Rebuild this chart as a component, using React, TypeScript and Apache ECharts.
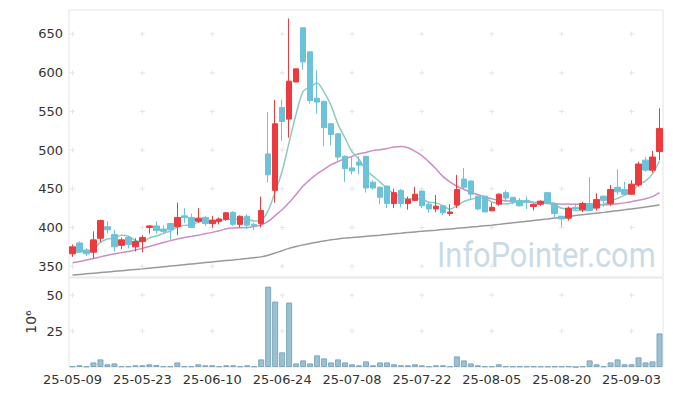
import React, { useEffect, useRef } from "react";
import * as echarts from "echarts";

const dates = [
  "25-05-09","25-05-12","25-05-13","25-05-14","25-05-15","25-05-16","25-05-19","25-05-20","25-05-21","25-05-22",
  "25-05-23","25-05-26","25-05-27","25-05-28","25-05-29","25-05-30","25-06-02","25-06-04","25-06-05","25-06-09",
  "25-06-10","25-06-11","25-06-12","25-06-13","25-06-16","25-06-17","25-06-18","25-06-19","25-06-20","25-06-23",
  "25-06-24","25-06-25","25-06-26","25-06-27","25-06-30","25-07-01","25-07-02","25-07-03","25-07-04","25-07-07",
  "25-07-08","25-07-09","25-07-10","25-07-11","25-07-14","25-07-15","25-07-16","25-07-17","25-07-18","25-07-21",
  "25-07-22","25-07-23","25-07-24","25-07-25","25-07-28","25-07-29","25-07-30","25-07-31","25-08-01","25-08-04",
  "25-08-05","25-08-06","25-08-07","25-08-08","25-08-11","25-08-12","25-08-13","25-08-14","25-08-18","25-08-19",
  "25-08-20","25-08-21","25-08-22","25-08-25","25-08-26","25-08-27","25-08-28","25-08-29","25-09-01","25-09-02",
  "25-09-03","25-09-04","25-09-05","25-09-08","25-09-09",
];

const opens = [
  366,380,371,368,386,401,391,377,387,375,
  382,400,402,398,405,401,415,413,408,413,
  405,408,410.5,419.5,404,414.5,404,405,495,448,
  555,540,588,658,627,567,563,534,521,492,
  477,484.5,492,458.5,452,453.5,431,448,431,435,
  447,430,424,428,418,429,462.5,460,440.5,440.5,
  421.5,430,445,439,435,434,427,430,445,431,
  414.5,412,426,423,431,425,440.5,431,452,449,
  443,455,487,474,498,
];
const closes = [
  375,369,366,384,409,397,375,384,378,382,
  387,402,396,395,397,413,412.5,400,412,405,
  409.5,411,419,404,414.5,403,402,422,468,534,
  537,589,605,614,564,562,529,520,491,476,
  473,480.5,451,451,439,431,445,431,436.5,443,
  428,424,427.5,419,420,449,452,443,424,420,
  426,443,438,433,428,432.5,430,434,431,418,
  411,425,424,431,422,436,435,449,446,443,
  456,482,474,491,528,
];
const lows = [
  362,368,363,360,381,392,369,372,373,369,
  368,392,392,392,384,390,406,399,406,402,
  400,404,408.5,402,400,398,396.5,400,458,432,
  512,516,588,604,560,547,505,506,486,459,
  468.5,468.5,445,449,430,425,425,426,423,434,
  425,419,420,416,415,425,449,436,422,420,
  421,428,433,430,427,424,422,428,430,413,
  401,409,422,420,421,422,427,428,442,442,
  442,452.5,472,471,487,
];
const highs = [
  378,382,373,395,410,408,397,387,389,386,
  390,403,408,403,406,432,425,418,425,415,
  415,413,420,421,415.5,417,406,440,549,565,
  565,670,605,658,627,603,564,535,522,493,
  492,492,492,461,453,454,450,449.6,440,452.5,
  448,433,442,429,430,468,477,461,441,441,
  432,444,448,439.5,438,440,431,435,445.5,432,
  415,427,431,433,465,444,441,455,475,459,
  461,485,491,499,554,
];

// volume, in millions of shares
const volumes = [
  0.5,1.2,0.4,3.2,5.3,1.9,2.5,0.5,0.5,1.2,
  1.2,1.9,1.4,0.5,0.5,3.2,0.5,0.5,1.9,1.2,
  1.2,0.5,1.2,1.2,0.5,1.2,0.5,5.3,56,45.6,
  10.2,44.9,2.5,4.6,2.5,8.1,6.0,3.2,5.3,3.2,
  1.9,1.2,3.9,1.2,3.2,3.2,1.9,1.2,1.2,1.9,
  1.2,0.5,1.2,1.2,0.5,7.4,4.6,2.5,1.2,0.5,
  0.5,1.9,0.5,0.4,0.4,0.4,0.4,0.4,0.4,0.4,
  0.4,0.5,0,0.5,4.6,1.9,0.5,3.2,5.3,1.9,
  1.9,6.7,3.2,3.9,23.4,
];

// moving-average values before enough closes exist in the window
const ma5Head = [367, 368, 369, 372];
const ma20Head = [354.5,356,358,360,362,364,366,367.5,369,371,373,375.5,378,380.5,383,385,387,388.5,390];

// long moving average (grey)
const maLong = [
  338.5,339.3,340.1,340.9,341.7,342.5,343.3,344.1,344.9,345.7,
  346.5,347.4,348.3,349.2,350.1,351,351.9,352.8,353.7,354.6,
  355.5,356.4,357.3,358.1,359,360,361,362,364.2,367,
  370,373,375.3,377.5,379.3,381,382.6,384,385.2,386.3,
  387,387.8,388.5,389.3,390,390.9,391.8,392.6,393.5,394.3,
  395,395.8,396.5,397.3,398.1,398.9,399.7,400.5,401.3,402.2,
  403,404,405,406,407,408,409,410,411,412.1,
  413.2,414.4,415.5,416.5,417.5,418.5,419.5,420.6,421.7,422.8,
  424,425.2,426.4,427.7,429,
];

const priceTicks = [350, 400, 450, 500, 550, 600, 650];
const volumeTicks = [25, 50];
const labelEvery = 10;

function movingAvg(n: number, head: number[]): number[] {
  return closes.map((_, i) => {
    if (i < n - 1) return head[i];
    let s = 0;
    for (let k = i - n + 1; k <= i; k++) s += closes[k];
    return +(s / n).toFixed(2);
  });
}

const UP = "#ec3a3f";
const DOWN = "#6cc3d9";
const CROSS =
  "path://M2,0 L3,0 L3,2 L5,2 L5,3 L3,3 L3,5 L2,5 L2,3 L0,3 L0,2 L2,2 Z";

export default function App() {
  const ref = useRef<HTMLDivElement>(null);

  useEffect(() => {
    document.body.style.margin = "0";
    if (!ref.current) return;
    const chart = echarts.init(ref.current, undefined, { renderer: "svg" });

    const candleData = opens.map((o, i) => [o, closes[i], lows[i], highs[i]]);
    const labelIdx = dates.map((_, i) => i).filter((i) => i % labelEvery === 0);
    const priceCross: any[] = [];
    labelIdx.forEach((i) => priceTicks.forEach((v) => priceCross.push([i, v])));
    const volCross: any[] = [];
    labelIdx.forEach((i) => volumeTicks.forEach((v) => volCross.push([i, v])));

    const font = "DejaVu Sans";
    chart.setOption({
      animation: false,
      textStyle: { fontFamily: font },
      grid: [
        { left: 69, right: 10, top: 10, height: 267, show: true, borderColor: "#e4e4e4", borderWidth: 1, backgroundColor: "transparent" },
        { left: 69, right: 10, top: 278, height: 89, show: true, borderColor: "#e4e4e4", borderWidth: 1, backgroundColor: "transparent" },
      ],
      xAxis: [
        {
          type: "category", gridIndex: 0, data: dates, boundaryGap: true,
          axisLine: { show: false }, axisTick: { show: false }, axisLabel: { show: false }, splitLine: { show: false },
        },
        {
          type: "category", gridIndex: 1, data: dates, boundaryGap: true,
          axisLine: { show: false }, axisTick: { show: false }, splitLine: { show: false },
          axisLabel: { interval: labelEvery - 1, fontSize: 13, color: "#333", margin: 6, fontFamily: font },
        },
      ],
      yAxis: [
        {
          type: "value", gridIndex: 0, min: 336, max: 681,
          axisLine: { show: false }, axisTick: { show: false }, splitLine: { show: false },
          axisLabel: { customValues: priceTicks, fontSize: 13, color: "#333", margin: 6, fontFamily: font },
        },
        {
          type: "value", gridIndex: 1, min: 0, max: 62,
          axisLine: { show: false }, axisTick: { show: false }, splitLine: { show: false },
          axisLabel: { customValues: volumeTicks, fontSize: 13, color: "#333", margin: 6, fontFamily: font },
        },
      ],
      graphic: [
        {
          type: "text", x: 437, y: 237, z: 1, silent: true, scaleX: 0.88,
          style: { text: "InfoPointer.com", fill: "#cadbe6", fontSize: 35, fontFamily: "Roboto", textAlign: "left", textVerticalAlign: "top" },
        },
        {
          type: "text", x: 31, y: 322, rotation: Math.PI / 2, silent: true,
          style: { text: "10⁶", fill: "#333", fontSize: 14, fontFamily: font, align: "center", verticalAlign: "middle" },
        },
      ],
      series: [
        {
          type: "scatter", xAxisIndex: 0, yAxisIndex: 0, data: priceCross, symbol: CROSS, symbolSize: 5,
          itemStyle: { color: "#dedede" }, silent: true, z: 0,
        },
        {
          type: "scatter", xAxisIndex: 1, yAxisIndex: 1, data: volCross, symbol: CROSS, symbolSize: 5,
          itemStyle: { color: "#dedede" }, silent: true, z: 0,
        },
        {
          type: "line", xAxisIndex: 0, yAxisIndex: 0, data: maLong, showSymbol: false, smooth: 0.2,
          lineStyle: { color: "#999999", width: 1.5 }, z: 3,
        },
        {
          type: "line", xAxisIndex: 0, yAxisIndex: 0, data: movingAvg(20, ma20Head), showSymbol: false, smooth: 0.3,
          lineStyle: { color: "#cc8ec4", width: 1.5 }, z: 3,
        },
        {
          type: "line", xAxisIndex: 0, yAxisIndex: 0, data: movingAvg(5, ma5Head), showSymbol: false, smooth: 0.3,
          lineStyle: { color: "#8ecbbc", width: 1.5 }, z: 3,
        },
        {
          type: "candlestick", xAxisIndex: 0, yAxisIndex: 0, data: candleData, barWidth: 6, z: 4,
          itemStyle: { color: UP, color0: DOWN, borderColor: UP, borderColor0: DOWN, borderWidth: 1 },
        },
        {
          type: "bar", xAxisIndex: 1, yAxisIndex: 1, data: volumes, barCategoryGap: "14%",
          itemStyle: { color: "#9ac0d1", borderColor: "#7ea8bd", borderWidth: 1 },
        },
      ],
    });
    return () => chart.dispose();
  }, []);

  return <div ref={ref} style={{ width: 673, height: 396 }} />;
}
